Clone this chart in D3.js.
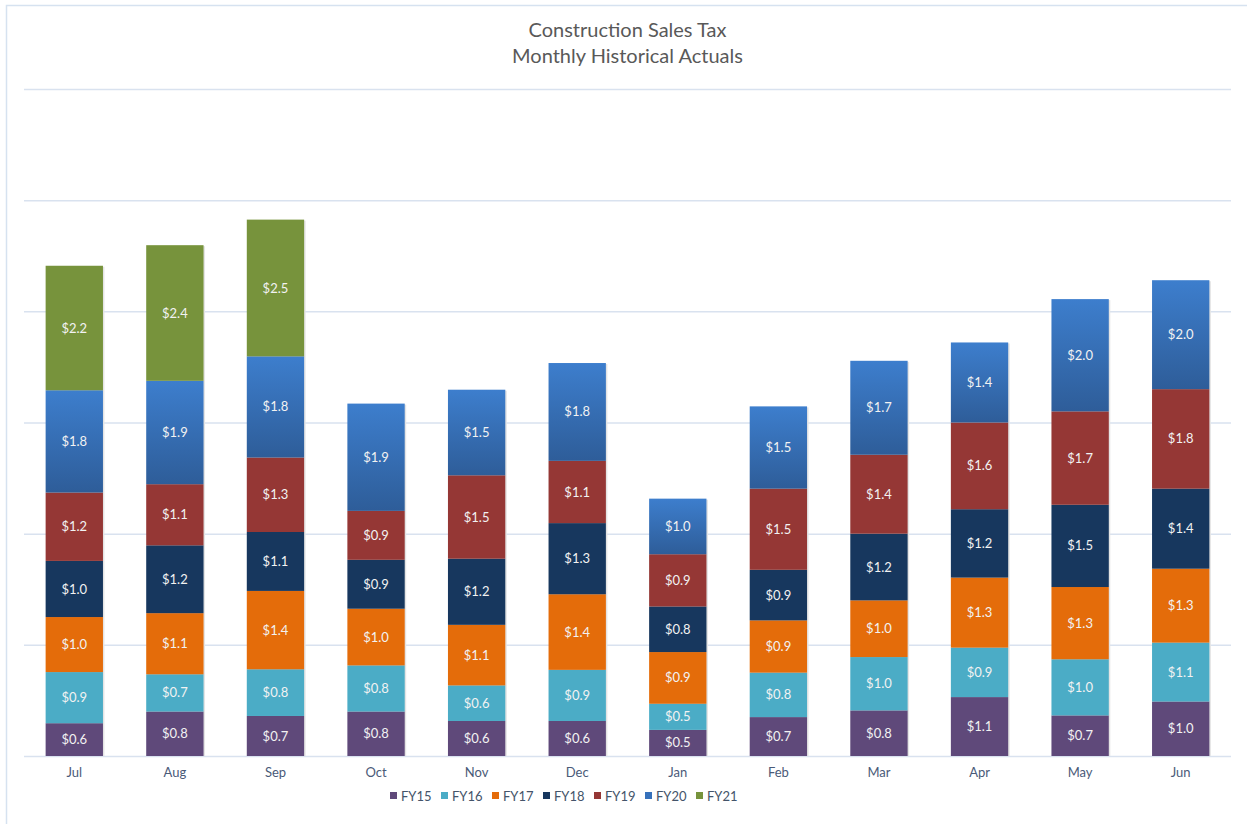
<!DOCTYPE html>
<html>
<head>
<meta charset="utf-8">
<script src="https://cdn.jsdelivr.net/npm/d3@7"></script>
<style>
  body { margin: 0; background: #fff; }
  svg text { font-family: Lato, "Open Sans", sans-serif; }
</style>
</head>
<body>
<div class="bar-chart-container"></div>
<script>
// months on the x axis
const months = ['Jul', 'Aug', 'Sep', 'Oct', 'Nov', 'Dec', 'Jan', 'Feb', 'Mar', 'Apr', 'May', 'Jun'];
// fiscal year series, in $ millions
const fy15 = [0.59, 0.80, 0.72, 0.80, 0.63, 0.63, 0.47, 0.70, 0.82, 1.06, 0.73, 0.98];
const fy16 = [0.92, 0.67, 0.84, 0.83, 0.64, 0.92, 0.47, 0.80, 0.96, 0.89, 1.01, 1.06];
const fy17 = [0.99, 1.10, 1.41, 1.02, 1.09, 1.36, 0.93, 0.94, 1.02, 1.26, 1.30, 1.33];
const fy18 = [1.01, 1.22, 1.06, 0.88, 1.19, 1.28, 0.82, 0.91, 1.20, 1.23, 1.48, 1.44];
const fy19 = [1.23, 1.10, 1.34, 0.88, 1.50, 1.12, 0.94, 1.46, 1.42, 1.56, 1.68, 1.79];
const fy20 = [1.84, 1.86, 1.82, 1.93, 1.54, 1.76, 1.00, 1.48, 1.69, 1.44, 2.02, 1.96];
const fy21 = [2.24, 2.44, 2.46, null, null, null, null, null, null, null, null, null];
const series_names = ['FY15', 'FY16', 'FY17', 'FY18', 'FY19', 'FY20', 'FY21'];
const series_values = [fy15, fy16, fy17, fy18, fy19, fy20, fy21];
const y_ticks = [0, 2, 4, 6, 8, 10, 12];

const colors = {
    FY15: '#5F497A', FY16: '#4BACC6', FY17: '#E46C0A', FY18: '#17375E',
    FY19: '#953735', FY20: 'url(#fy20-grad)', FY21: '#77933C'
};
const legend_colors = {
    FY15: '#5F497A', FY16: '#4BACC6', FY17: '#E46C0A', FY18: '#17375E',
    FY19: '#953735', FY20: '#3671BB', FY21: '#77933C'
};

// build a table for d3.stack
const table = months.map((m, i) => {
    const row = {month: m};
    series_names.forEach((s, j) => { row[s] = series_values[j][i] || 0; });
    return row;
});

const svg_width = 1247;
const svg_height = 824;
const margin = {top: 89, right: 16, bottom: 67, left: 24};
const chart_width = svg_width - margin.left - margin.right;
const chart_height = svg_height - margin.top - margin.bottom;

const svg = d3.select('.bar-chart-container')
    .append('svg')
    .attr('width', svg_width)
    .attr('height', svg_height);

// gradient for FY20
const defs = svg.append('defs');
const grad = defs.append('linearGradient')
    .attr('id', 'fy20-grad')
    .attr('x1', 0).attr('y1', 0).attr('x2', 0).attr('y2', 1);
grad.append('stop').attr('offset', '0%').attr('stop-color', '#3D7ECD');
grad.append('stop').attr('offset', '100%').attr('stop-color', '#2E5D99');

// chart border (light)
svg.append('path')
    .attr('d', `M6.5,${svg_height} V5.5 H${svg_width}`)
    .style('fill', 'none')
    .style('stroke', '#D6E2F0')
    .style('stroke-width', 1.5);

const g = svg.append('g')
    .attr('transform', `translate(${margin.left}, ${margin.top})`);

// scales
const x_scale = d3.scaleBand()
    .domain(months)
    .range([0, chart_width])
    .paddingInner(0.43)
    .paddingOuter(0.215);
const y_scale = d3.scaleLinear()
    .domain([0, 12])
    .range([chart_height - 1, 0]);

// gridlines
const y_axis = d3.axisLeft(y_scale)
    .tickValues(y_ticks)
    .tickSize(-chart_width)
    .tickFormat('');
const y_axis_g = g.append('g').attr('class', 'y axis').call(y_axis);
y_axis_g.select('.domain').remove();
y_axis_g.selectAll('.tick line')
    .style('stroke', '#D9E2EF')
    .style('stroke-width', 1.5);

// stacked bars
const stacked = d3.stack().keys(series_names)(table);

const layers = g.selectAll('.layer')
    .data(stacked)
    .enter()
    .append('g')
    .attr('class', d => `layer ${d.key.toLowerCase()}`);

// faint shadow at the right of each bar
g.insert('g', '.layer')
    .attr('class', 'shadows')
    .selectAll('rect')
    .data(table)
    .enter()
    .append('rect')
    .attr('x', d => x_scale(d.month) + 1.5)
    .attr('y', d => y_scale(d3.sum(series_names, s => d[s])) + 1)
    .attr('width', x_scale.bandwidth())
    .attr('height', d => y_scale(0) - y_scale(d3.sum(series_names, s => d[s])) - 1)
    .style('fill', '#E4E4E4');

layers.selectAll('rect')
    .data(d => d.map(p => ({key: d.key, p: p})).filter(e => e.p[1] - e.p[0] > 0))
    .enter()
    .append('rect')
    .attr('x', d => x_scale(d.p.data.month))
    .attr('y', d => y_scale(d.p[1]))
    .attr('width', x_scale.bandwidth())
    .attr('height', d => y_scale(d.p[0]) - y_scale(d.p[1]))
    .style('fill', d => colors[d.key]);

// value labels
layers.selectAll('text')
    .data(d => d.map(p => ({key: d.key, p: p})).filter(e => e.p[1] - e.p[0] > 0))
    .enter()
    .append('text')
    .attr('x', d => x_scale(d.p.data.month) + x_scale.bandwidth() / 2)
    .attr('y', d => y_scale((d.p[0] + d.p[1]) / 2))
    .attr('dy', '0.35em')
    .text(d => '$' + d3.format('.1f')(d.p[1] - d.p[0]))
    .style('text-anchor', 'middle')
    .style('font-size', '13px')
    .style('fill', '#F2F2F2');

// x axis labels
const x_axis = d3.axisBottom(x_scale).tickSize(0).tickPadding(12);
const x_axis_g = g.append('g')
    .attr('class', 'x axis')
    .attr('transform', `translate(0, ${chart_height - 1})`)
    .call(x_axis);
x_axis_g.select('.domain').remove();
x_axis_g.selectAll('text')
    .style('font-family', 'Lato, sans-serif')
    .style('font-size', '13px')
    .style('fill', '#4A5A78');

// header
const header = svg.append('text')
    .attr('class', 'header')
    .attr('x', margin.left + chart_width / 2)
    .attr('y', 37)
    .style('text-anchor', 'middle')
    .style('font-size', '20px')
    .style('fill', '#595959');
header.append('tspan').text('Construction Sales Tax');
header.append('tspan')
    .attr('x', margin.left + chart_width / 2)
    .attr('dy', 26)
    .text('Monthly Historical Actuals');

// legend
const legend = svg.append('g')
    .attr('class', 'legend')
    .attr('transform', 'translate(390, 796)');
const legend_item = legend.selectAll('.legend-item')
    .data(series_names)
    .enter()
    .append('g')
    .attr('class', 'legend-item')
    .attr('transform', (d, i) => `translate(${i * 51}, 0)`);
legend_item.append('rect')
    .attr('x', 0)
    .attr('y', -4)
    .attr('width', 7)
    .attr('height', 7)
    .style('fill', d => legend_colors[d]);
legend_item.append('text')
    .attr('x', 11)
    .attr('dy', '0.35em')
    .text(d => d)
    .style('font-size', '13px')
    .style('fill', '#44546A');
</script>
</body>
</html>
